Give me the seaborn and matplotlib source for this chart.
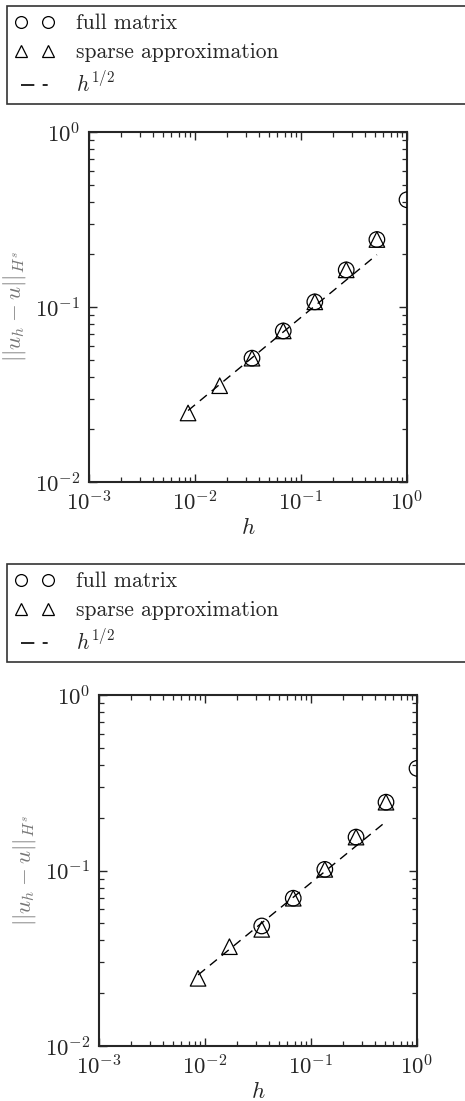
import numpy as np
import pandas as pd
import matplotlib
matplotlib.use("Agg")
import matplotlib.pyplot as plt
import seaborn as sns
from matplotlib.lines import Line2D

# ---- data ----
h_full_top = [1.0, 0.52, 0.267, 0.135, 0.068, 0.0345]
err_full_top = [0.41, 0.243, 0.163, 0.107, 0.073, 0.051]
h_sparse_top = [0.52, 0.267, 0.135, 0.068, 0.0345, 0.0171, 0.0086]
err_sparse_top = [0.243, 0.163, 0.107, 0.073, 0.051, 0.0355, 0.0248]
h_ref_top = [0.0086, 0.52]
ref_top = [0.0256, 0.199]

h_full_bot = [1.0, 0.51, 0.266, 0.135, 0.068, 0.0343]
err_full_bot = [0.382, 0.245, 0.155, 0.1015, 0.0695, 0.0483]
h_sparse_bot = [0.51, 0.266, 0.135, 0.068, 0.0343, 0.017, 0.0086]
err_sparse_bot = [0.245, 0.155, 0.1015, 0.0695, 0.0462, 0.0368, 0.0243]
h_ref_bot = [0.0086, 0.51]
ref_bot = [0.0254, 0.19]

labels = ["full matrix", "sparse approximation", r"$h^{1/2}$"]
xticks = [1e-3, 1e-2, 1e-1, 1e0]
yticks = [1e-2, 1e-1, 1e0]

FS = 16.5
LFS = 15.5

sns.set_style("ticks")
plt.rcParams.update({
    "font.family": "serif",
    "font.serif": ["cmr10", "DejaVu Serif"],
    "mathtext.fontset": "cm",
    "axes.formatter.use_mathtext": True,
    "axes.unicode_minus": False,
    "font.size": FS,
})

W, H = 465, 1101
fig = plt.figure(figsize=(W / 100, H / 100), dpi=100)


def px_axes(x0, y0, x1, y1):
    return fig.add_axes([x0 / W, 1 - y1 / H, (x1 - x0) / W, (y1 - y0) / H])


def draw(ax, hf, ef, hs, es, hr, er):
    df_f = pd.DataFrame({"h": hf, "e": ef})
    df_s = pd.DataFrame({"h": hs, "e": es})
    df_r = pd.DataFrame({"h": hr, "e": er})
    sns.lineplot(data=df_r, x="h", y="e", ax=ax, color="black", lw=1.0,
                 dashes=False, zorder=2)
    ax.lines[-1].set_dashes((6.5, 4.5))
    sns.scatterplot(data=df_f, x="h", y="e", ax=ax, marker="o", s=125,
                    facecolor="none", edgecolor="black", linewidth=0.9, zorder=3)
    sns.scatterplot(data=df_s, x="h", y="e", ax=ax, marker="^", s=125,
                    facecolor="none", edgecolor="black", linewidth=0.9, zorder=3)
    ax.set_xscale("log")
    ax.set_yscale("log")
    ax.set_xlim(1e-3, 1e0)
    ax.set_ylim(1e-2, 1e0)
    ax.set_xticks(xticks)
    ax.set_yticks(yticks)
    ax.tick_params(which="both", direction="in", top=True, right=True)
    ax.tick_params(which="major", length=6, width=1.0, labelsize=FS, pad=6)
    ax.tick_params(which="minor", length=3.5, width=0.9)
    for sp in ax.spines.values():
        sp.set_linewidth(1.5)
    ax.set_xlabel(r"$h$", fontsize=FS, labelpad=1.5)
    ax.set_ylabel(r"$||u_h - u||_{H^s}$", fontsize=FS, color="#777777", labelpad=5)


def legend_at(y_top):
    handles = [
        Line2D([], [], ls="none", marker="o", mfc="none", mec="black", ms=8.5, mew=0.9),
        Line2D([], [], ls="none", marker="^", mfc="none", mec="black", ms=8.5, mew=0.9),
        Line2D([], [], ls=(0, (8, 5, 3, 20)), color="black", lw=1.2),
    ]
    leg = fig.legend(handles, labels, loc="upper left",
                     bbox_to_anchor=(7 / W, 1 - y_top / H, 1.2, 0.0),
                     bbox_transform=fig.transFigure, mode="expand",
                     borderaxespad=0, numpoints=2, handlelength=1.85,
                     handletextpad=1.0, labelspacing=0.45, borderpad=0.35,
                     fontsize=LFS, frameon=True, fancybox=False)
    leg.get_frame().set_edgecolor("black")
    leg.get_frame().set_linewidth(1.2)
    return leg


ax1 = px_axes(89, 132, 407, 482)
draw(ax1, h_full_top, err_full_top, h_sparse_top, err_sparse_top, h_ref_top, ref_top)
ax2 = px_axes(99, 695, 417, 1046)
draw(ax2, h_full_bot, err_full_bot, h_sparse_bot, err_sparse_bot, h_ref_bot, ref_bot)

legend_at(6)
legend_at(564)

fig.savefig("out.png", dpi=100)
